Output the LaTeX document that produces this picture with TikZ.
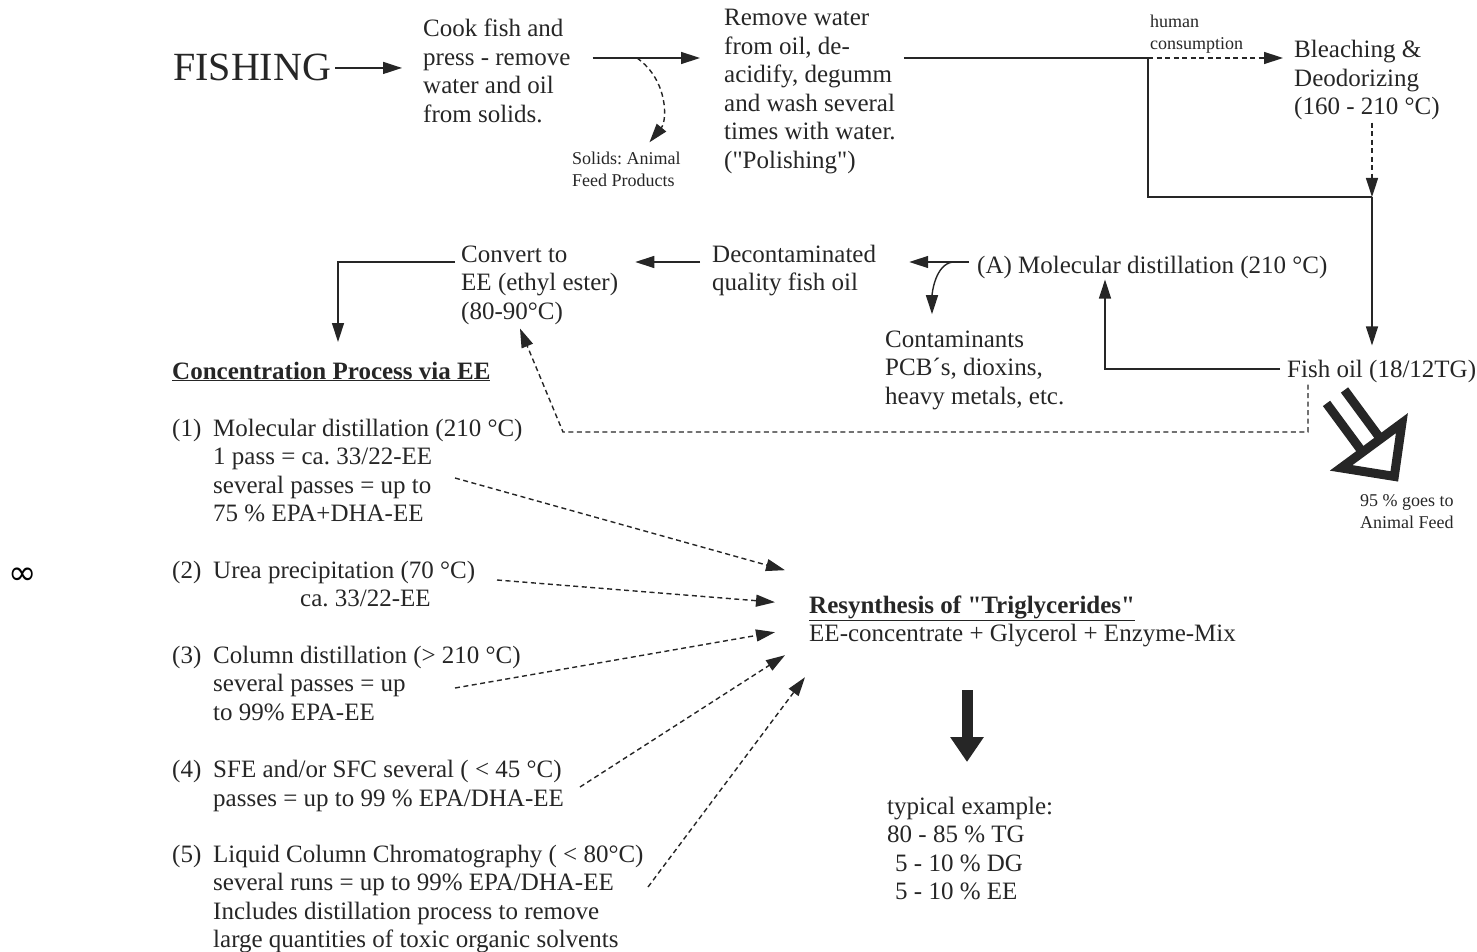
\documentclass[tikz,border=0pt]{standalone}
\usepackage{fontspec}
\setmainfont{Liberation Serif}
\newfontfamily\dgSym{DejaVu Sans}
\usetikzlibrary{arrows.meta}
\definecolor{ink}{gray}{0.15}
\newcommand\dgBody{\fontsize{25}{28.5}\selectfont}
\newcommand\dgSmall{\fontsize{18}{22}\selectfont}
\newcommand\dgBig{\fontsize{40}{44}\selectfont}
\frenchspacing

\begin{document}
\begin{tikzpicture}[x=1pt,y=-1pt,
  % multi-line nodes are placed by the baseline of their last line
  txt/.style={inner sep=0pt, anchor=base west, align=left, font=\dgBody, text=ink},
  smalltxt/.style={txt, font=\dgSmall},
  flow/.style={draw=ink, line width=1.4pt},
  tiphead/.style={-{Triangle[length=19pt,width=12pt]}},
  flowarr/.style={flow, tiphead},
  dasharr/.style={flow, tiphead, dash pattern=on 5pt off 3.5pt},
  bigarrow/.style={draw=ink, line width=11pt, -{Triangle[length=25pt,width=32pt]}},
  hollowarrow/.style={draw=ink, line width=9pt},
]
\useasboundingbox (0,0) rectangle (1477,952);

% ---------- text blocks ----------
\node[txt, font=\dgBig] (fishing) at (173,81) {FISHING};
\node[txt] (cook) at (423,122.5) {Cook fish and\\press - remove\\water and oil\\from solids.};
\node[smalltxt] (solids) at (572,187) {Solids: Animal\\Feed Products};
\node[txt] (remove) at (724,168.5) {Remove water\\from oil, de-\\acidify, degumm\\and wash several\\times with water.\\(\textquotedbl Polishing\textquotedbl)};
\node[smalltxt] (human) at (1150,50) {human\\consumption};
\node[txt] (bleach) at (1294,115) {Bleaching \&\\Deodorizing\\(160 - 210 °C)};
\node[txt] (fishoil) at (1287,377) {Fish oil (18/12TG)};
\node[txt] (moldist) at (977,273) {(A) Molecular distillation (210 °C)};
\node[txt] (contam) at (885,404) {Contaminants\\PCB´s, dioxins,\\heavy metals, etc.};
\node[txt] (decon) at (712,290.5) {Decontaminated\\quality fish oil};
\node[txt] (convert) at (461,319) {Convert to\\EE (ethyl ester)\\(80-90°C)};
\node[txt] (conc) at (172,379) {\underline{\textbf{Concentration Process via EE}}};
\node[smalltxt] (feed) at (1360,528) {95 \% goes to\\Animal Feed};

% ---------- concentration methods ----------
\node[txt] (n1) at (172,436) {(1)};
\node[txt] (i1) at (213,521.5) {Molecular distillation (210 °C)\\1 pass = ca. 33/22-EE\\several passes = up to\\75 \% EPA+DHA-EE};
\node[txt] (n2) at (172,578) {(2)};
\node[txt] (i2) at (213,606.5) {Urea precipitation (70 °C)\\\hspace*{87pt}ca. 33/22-EE};
\node[txt] (n3) at (172,663) {(3)};
\node[txt] (i3) at (213,720) {Column distillation (> 210 °C)\\several passes = up\\to 99\% EPA-EE};
\node[txt] (n4) at (172,777) {(4)};
\node[txt] (i4) at (213,806) {SFE and/or SFC several ( < 45 °C)\\passes = up to 99 \% EPA/DHA-EE};
\node[txt] (n5) at (172,862) {(5)};
\node[txt] (i5) at (213,947.5) {Liquid Column Chromatography ( < 80°C)\\several runs = up to 99\% EPA/DHA-EE\\Includes distillation process to remove\\large quantities of toxic organic solvents};

\node[txt] (resyn) at (809,641.5) {\underline{\textbf{Resynthesis of \textquotedbl Triglycerides\textquotedbl}}\\EE-concentrate + Glycerol + Enzyme-Mix};
\node[txt] (typical) at (887,899.5) {typical example:\\80 - 85 \% TG\\\hspace*{8pt}5 - 10 \% DG\\\hspace*{8pt}5 - 10 \% EE};
\node[inner sep=0pt, font=\dgSym\fontsize{34}{34}\selectfont] (inf) at (23,576) {∞};

% ---------- junctions ----------
\coordinate (jS) at (637,58);
\coordinate (jA) at (1148,58);
\coordinate (jB) at (1372,197);
\coordinate (jE) at (1105,369);
\coordinate (jG) at (953,262);
\coordinate (jF) at (338,342);
\coordinate (jC) at (1308,432);
\coordinate (jD) at (563,432);
\coordinate (s1) at (455,478);
\coordinate (s2) at (497,580);
\coordinate (s3) at (455,688);
\coordinate (s4) at (580,787);
\coordinate (s5) at (648,887);
\coordinate (bigA) at (967,690);
\coordinate (bigB) at (967,762);

% ---------- main process line ----------
\draw[flowarr] ([xshift=4pt]fishing.east) -- ([xshift=-21pt]cook.west |- fishing.east);
\draw[flowarr] ([xshift=22pt]cook.east |- jS) -- ([xshift=-24pt]remove.west |- jS);
\draw[dasharr] (jS) .. controls +(31,22) and +(18,-22) .. ([xshift=23pt,yshift=10pt]solids.north);
\draw[flow] ([xshift=8pt]remove.east |- jA) -- (jA);
\draw[dasharr] (jA) -- ([xshift=-11pt]bleach.west |- jA);
\draw[flow] (jA) |- (jB);
\draw[dasharr] ([yshift=-2pt]bleach.south -| jB) -- (jB);
\draw[flowarr] (jB) -- ([yshift=14pt]fishoil.north -| jB);

% ---------- decontamination ----------
\draw[flowarr] ([xshift=-7pt]fishoil.west |- jE) -| ([yshift=-1pt]moldist.south -| jE);
\draw[flowarr] ([xshift=-8pt]moldist.west |- jG) -- ([xshift=33pt]decon.east |- jG);
\draw[flowarr] (jG) .. controls +(-18,2) and +(0,-20) .. ([xshift=47pt,yshift=16pt]contam.north west);
\draw[flowarr] ([xshift=-12pt]decon.west |- jG) -- ([xshift=17pt]convert.east |- jG);
\draw[flowarr] ([xshift=-6pt]convert.west |- jG) -| (jF);
\draw[dasharr] ([xshift=21pt,yshift=-2pt]fishoil.south west) -- (jC) -- (jD)
  -- ([xshift=59pt,yshift=-4pt]convert.south west);

% ---------- 95 % to animal feed ----------
\draw[hollowarrow] (1344.5,390.0) -- (1380.5,438.8) (1326.5,403.4) -- (1362.5,452.2);
\draw[hollowarrow, fill=white, line join=miter]
  (1401.9,423.1) -- (1341.1,467.9) -- (1394.3,476.4) -- cycle;

% ---------- methods to resynthesis ----------
\draw[dasharr] (s1) -- ([xshift=-24pt,yshift=25pt]resyn.north west);
\draw[dasharr] (s2) -- ([xshift=-34pt,yshift=-7pt]resyn.north west);
\draw[dasharr] (s3) -- ([xshift=-34pt,yshift=-37pt]resyn.north west);
\draw[dasharr] (s4) -- ([xshift=-24pt,yshift=-60pt]resyn.north west);
\draw[dasharr] (s5) -- ([xshift=-4pt,yshift=-82pt]resyn.north west);

\draw[bigarrow] (bigA) -- (bigB);
\end{tikzpicture}
\end{document}
